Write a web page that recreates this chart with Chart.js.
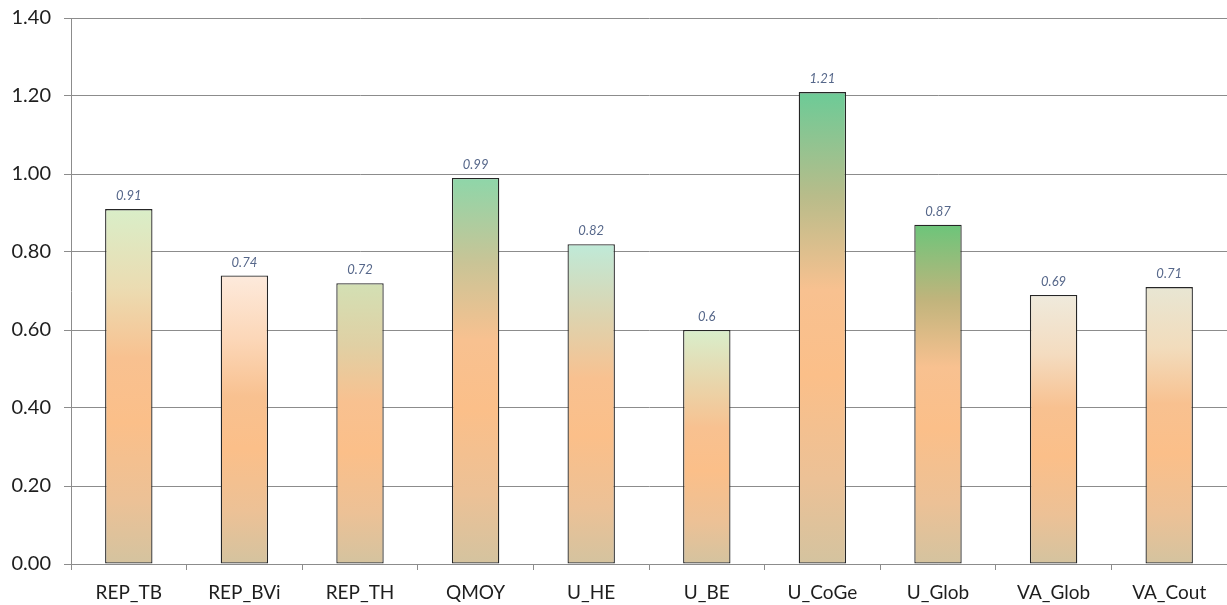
<!DOCTYPE html>
<html>
<head>
<meta charset="utf-8">
<script src="https://cdn.jsdelivr.net/npm/chart.js@4.4.1/dist/chart.umd.min.js"></script>
<style>
  html, body { margin: 0; padding: 0; background: #ffffff; }
  #wrap { width: 1227px; height: 605px; position: relative; }
</style>
</head>
<body>
<div id="wrap"><canvas id="chart" width="1227" height="605"></canvas></div>
<script>
// Indicator names and their values
const categories = ['REP_TB', 'REP_BVi', 'REP_TH', 'QMOY', 'U_HE', 'U_BE', 'U_CoGe', 'U_Glob', 'VA_Glob', 'VA_Cout'];
const values = [0.91, 0.74, 0.72, 0.99, 0.82, 0.6, 1.21, 0.87, 0.69, 0.71];
const valueLabels = ['0.91', '0.74', '0.72', '0.99', '0.82', '0.6', '1.21', '0.87', '0.69', '0.71'];
const yTicks = [0, 0.2, 0.4, 0.6, 0.8, 1.0, 1.2, 1.4];

// Top colour of each bar's vertical gradient (bottom is tan, middle is orange)
const topColors = ['#d9eec8', '#fdeadc', '#d3e0b4', '#8ed6a9', '#bfead8', '#d9eecb', '#6ccb97', '#6cc57a', '#efeadc', '#e8e6d3'];
const midColors = ['#ebdcb2', '#fcd7b8', '#e0d0a4', '#c9c496', '#dcd4b0', '#e8d6ac', '#b8bc8a', '#c0b47c', '#f4dcc0', '#f2dcbc'];

function barGradient(ctx, yTop, yBase, i) {
  const g = ctx.createLinearGradient(0, yBase, 0, yTop);
  g.addColorStop(0, '#d4c39f');
  g.addColorStop(0.18, '#ecc196');
  g.addColorStop(0.4, '#fbbf89');
  g.addColorStop(0.58, '#f8c190');
  g.addColorStop(0.78, midColors[i]);
  g.addColorStop(1, topColors[i]);
  return g;
}

// Italic value labels above each bar
const valueLabelPlugin = {
  id: 'valueLabels',
  afterDatasetsDraw(chart) {
    const ctx = chart.ctx;
    const meta = chart.getDatasetMeta(0);
    ctx.save();
    ctx.font = 'italic 13px Lato, "Open Sans", sans-serif';
    ctx.fillStyle = '#56678a';
    ctx.textAlign = 'center';
    ctx.textBaseline = 'middle';
    meta.data.forEach((bar, i) => {
      ctx.fillText(valueLabels[i], bar.x, bar.y - 13);
    });
    ctx.restore();
  }
};

const ctx = document.getElementById('chart').getContext('2d');
new Chart(ctx, {
  type: 'bar',
  data: {
    labels: categories,
    datasets: [{
      data: values,
      backgroundColor(c) {
        const chart = c.chart;
        if (!chart.chartArea || c.type !== 'data') return '#fbbf89';
        const y = chart.scales.y;
        return barGradient(chart.ctx, y.getPixelForValue(values[c.dataIndex]), y.getPixelForValue(0), c.dataIndex);
      },
      borderColor: '#262626',
      borderWidth: 1.3,
      borderSkipped: false,
      barPercentage: 0.41,
      categoryPercentage: 1.0
    }]
  },
  options: {
    responsive: false,
    animation: false,
    devicePixelRatio: 1,
    layout: { padding: { top: 18, right: 0, left: 0, bottom: 0 } },
    plugins: {
      legend: { display: false },
      tooltip: { enabled: false }
    },
    scales: {
      x: {
        offset: true,
        grid: {
          offset: true,
          drawOnChartArea: false,
          drawTicks: true,
          tickLength: 6,
          color: '#8c8c8c'
        },
        border: { color: '#8c8c8c', width: 1 },
        ticks: {
          color: '#1e1e1e',
          font: { family: 'Lato, "Open Sans", sans-serif', size: 19 },
          padding: 11,
          maxRotation: 0,
          autoSkip: false
        },
        afterFit(scale) { scale.height = 41; scale.paddingLeft = 0; scale.paddingRight = 0; }
      },
      y: {
        min: 0,
        max: 1.4,
        afterBuildTicks(scale) { scale.ticks = yTicks.map(v => ({ value: v })); },
        grid: {
          color: '#8c8c8c',
          lineWidth: 1,
          drawTicks: true,
          tickLength: 7
        },
        border: { color: '#8c8c8c', width: 1 },
        ticks: {
          color: '#1e1e1e',
          font: { family: 'Lato, "Open Sans", sans-serif', size: 20 },
          padding: 13,
          callback: v => Number(v).toFixed(2)
        },
        afterFit(scale) { scale.width = 71; scale.paddingTop = 0; scale.paddingBottom = 0; }
      }
    }
  },
  plugins: [valueLabelPlugin]
});
</script>
</body>
</html>
